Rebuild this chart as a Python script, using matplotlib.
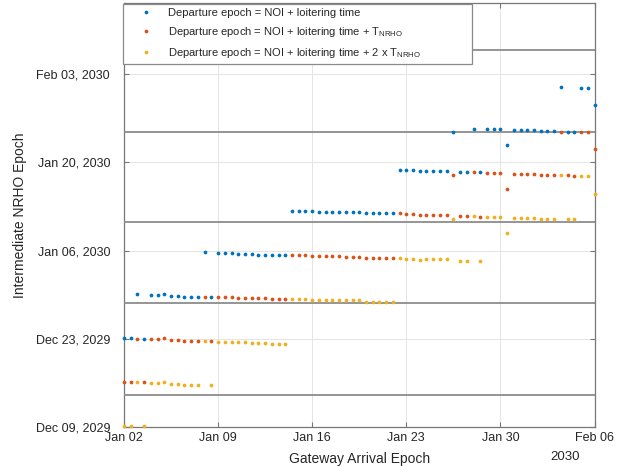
import matplotlib
matplotlib.use('Agg')
import matplotlib.pyplot as plt
import matplotlib.dates as mdates
from matplotlib.lines import Line2D
from datetime import datetime, timedelta

plt.rcParams['font.family'] = ['Liberation Sans', 'DejaVu Sans']
plt.rcParams['mathtext.fontset'] = 'custom'
plt.rcParams['mathtext.rm'] = 'Liberation Sans'
plt.rcParams['mathtext.it'] = 'Liberation Sans:italic'

# ---------------- data ----------------
ARRIVAL_REF = datetime(2030, 1, 2)     # x offsets are days from this date
EPOCH_REF = datetime(2029, 12, 9)      # y offsets are days from this date

arrival_days = [0.0, 0.5, 1.0, 1.5, 2.0, 2.5, 3.0, 3.5, 4.0, 4.5, 5.0, 5.5,
                6.0, 6.5, 7.0, 7.5, 8.0, 8.5, 9.0, 9.5, 10.0, 10.5, 11.0, 11.5,
                12.0, 12.5, 13.0, 13.5, 14.0, 14.5, 15.0, 15.5, 16.0, 16.5, 17.0, 17.5,
                18.0, 18.5, 19.0, 19.5, 20.0, 20.5, 21.0, 21.5, 22.0, 22.5, 23.0, 23.5,
                24.0, 24.5, 25.0, 25.5, 26.0, 26.5, 27.0, 27.5, 28.0, 28.5, 29.0, 29.5,
                30.0, 30.5, 31.0, 31.5, 32.0, 32.5, 33.0, 33.5, 34.0, 34.5, 35.0]

# Departure epoch = NOI + loitering time
epoch_loiter = [14.1, 14.1, 21.1, 14.05, 20.95, 20.95, 21.1, 20.85, 20.8, 20.7, 20.7, 20.7,
                27.75, 20.7, 27.7, 27.6, 27.6, 27.5, 27.5, 27.5, 27.4, 27.4, 27.3, 27.3,
                27.3, 34.3, 34.3, 34.3, 34.25, 34.2, 34.2, 34.2, 34.2, 34.15, 34.15, 34.15,
                34.05, 34.05, 34.05, 34.05, 34.05, 40.8, 40.8, 40.8, 40.65, 40.7, 40.7, 40.7,
                40.7, 46.85, 40.4, 40.4, 47.35, 40.4, 47.35, 47.3, 47.3, 44.75, 47.15, 47.15,
                47.15, 47.1, 46.95, 46.95, 46.95, 53.9, 46.85, 46.85, 53.85, 53.8, 51.05]

# Departure epoch = NOI + loitering time + T_NRHO
epoch_loiter_1T = [7.2, 7.15, 14.05, 7.15, 13.95, 13.95, 14.15, 13.85, 13.85, 13.7, 13.7, 13.7,
                   20.7, 13.7, 20.62, 20.62, 20.6, 20.55, 20.55, 20.5, 20.5, 20.45, 20.4, 20.3,
                   20.3, 27.3, 27.3, 27.3, 27.2, 27.15, 27.15, 27.1, 27.1, 27.05, 27.05, 27.0,
                   26.9, 26.9, 26.85, 26.8, 26.8, 33.9, 33.8, 33.8, 33.65, 33.65, 33.7, 33.7,
                   33.7, 39.95, 33.5, 33.5, 40.4, 33.4, 40.3, 40.25, 40.25, 37.8, 40.15, 40.15,
                   40.1, 40.1, 40.0, 40.0, 39.95, 46.8, 39.95, 39.9, 46.75, 46.75, 44.2]

# Departure epoch = NOI + loitering time + 2 x T_NRHO
epoch_loiter_2T = [0.15, 0.15, 7.15, 0.15, 7.0, 7.0, 7.15, 6.9, 6.9, 6.7, 6.7, 6.7,
                   13.7, 6.65, 13.6, 13.6, 13.55, 13.5, 13.5, 13.45, 13.35, 13.3, 13.2, 13.2,
                   13.2, 20.3, 20.3, 20.3, 20.25, 20.2, 20.2, 20.2, 20.2, 20.2, 20.2, 20.2,
                   19.95, 19.9, 19.9, 19.9, 19.9, 26.8, 26.75, 26.7, 26.6, 26.65, 26.65, 26.65,
                   26.7, 33.0, 26.4, 26.4, 33.45, 26.35, 33.4, 33.4, 33.4, 30.75, 33.25, 33.25,
                   33.25, 33.25, 33.05, 33.05, 33.05, 39.95, 33.0, 33.0, 39.9, 39.85, 37.05]

# reference horizontal lines (days from EPOCH_REF)
ref_line_days = [5.09, 19.67, 32.55, 46.86, 59.86]

series_labels = ['Departure epoch = NOI + loitering time',
                 'Departure epoch = NOI + loitering time + T$_{\\mathrm{NRHO}}$',
                 'Departure epoch = NOI + loitering time + 2 x T$_{\\mathrm{NRHO}}$']
series_colors = ['#0072BD', '#D95319', '#EDB120']

x_tick_dates = [datetime(2030, 1, 2), datetime(2030, 1, 9), datetime(2030, 1, 16),
                datetime(2030, 1, 23), datetime(2030, 1, 30), datetime(2030, 2, 6)]
y_tick_dates = [datetime(2029, 12, 9), datetime(2029, 12, 23), datetime(2030, 1, 6),
                datetime(2030, 1, 20), datetime(2030, 2, 3)]
y_limits_days = (0.0, 67.26)

# ---------------- plot ----------------
W, H = 625, 466
fig = plt.figure(figsize=(W / 100, H / 100), dpi=100)
ax_l, ax_r, ax_b, ax_t = 124, 594.5, 427.4, 3
ax = fig.add_axes([ax_l / W, 1 - ax_b / H, (ax_r - ax_l) / W, (ax_b - ax_t) / H])

xs = [ARRIVAL_REF + timedelta(days=d) for d in arrival_days]
for vals, col in zip([epoch_loiter, epoch_loiter_1T, epoch_loiter_2T], series_colors):
    ys = [EPOCH_REF + timedelta(days=v) for v in vals]
    ax.plot(xs, ys, ls='none', marker='o', ms=2.7, mew=0, color=col,
            clip_on=False, zorder=4)

for d in ref_line_days:
    ax.axhline(EPOCH_REF + timedelta(days=d), color='#8c8c8c', lw=1.3, zorder=3)

ax.set_xlim(x_tick_dates[0], x_tick_dates[-1])
ax.set_ylim(EPOCH_REF + timedelta(days=y_limits_days[0]),
            EPOCH_REF + timedelta(days=y_limits_days[1]))

ax.set_xticks(x_tick_dates)
ax.xaxis.set_major_formatter(mdates.DateFormatter('%b %d'))
ax.set_yticks(y_tick_dates)
ax.yaxis.set_major_formatter(mdates.DateFormatter('%b %d, %Y'))

ax.grid(True, color='#e4e4e4', lw=0.7)
ax.set_axisbelow(True)
for s in ax.spines.values():
    s.set_color('#777777')
    s.set_linewidth(0.9)
ax.tick_params(direction='in', length=3.5, width=0.8, color='#777777',
               labelsize=9, labelcolor='#262626', top=True, right=True)
ax.tick_params(axis='x', pad=3)
ax.tick_params(axis='y', pad=10)

ax.set_xlabel('Gateway Arrival Epoch', fontsize=10, color='#262626', labelpad=6)
ax.set_ylabel('Intermediate NRHO Epoch', fontsize=10, color='#262626')
ax.yaxis.set_label_coords(27 / W, 1 - 215 / H, transform=fig.transFigure)
fig.text(580 / W, 1 - 457 / H, '2030', ha='right', va='center', fontsize=9.5,
         color='#262626')

handles = [Line2D([], [], ls='none', marker='o', ms=2.7, mew=0, color=c)
           for c in series_colors]
leg = fig.legend(handles, series_labels, loc='upper left',
                 bbox_to_anchor=(123 / W, 1 - 4 / H, (472 - 123) / W, 0.0),
                 mode='expand', borderaxespad=0, fontsize=8, frameon=True,
                 fancybox=False, edgecolor='#8a8a8a', framealpha=1,
                 borderpad=0.35, handlelength=3.36, handletextpad=0.32,
                 labelspacing=0.62)
leg.get_frame().set_linewidth(0.9)
for t in leg.get_texts():
    t.set_color('#262626')

fig.savefig('out.png', dpi=100)
